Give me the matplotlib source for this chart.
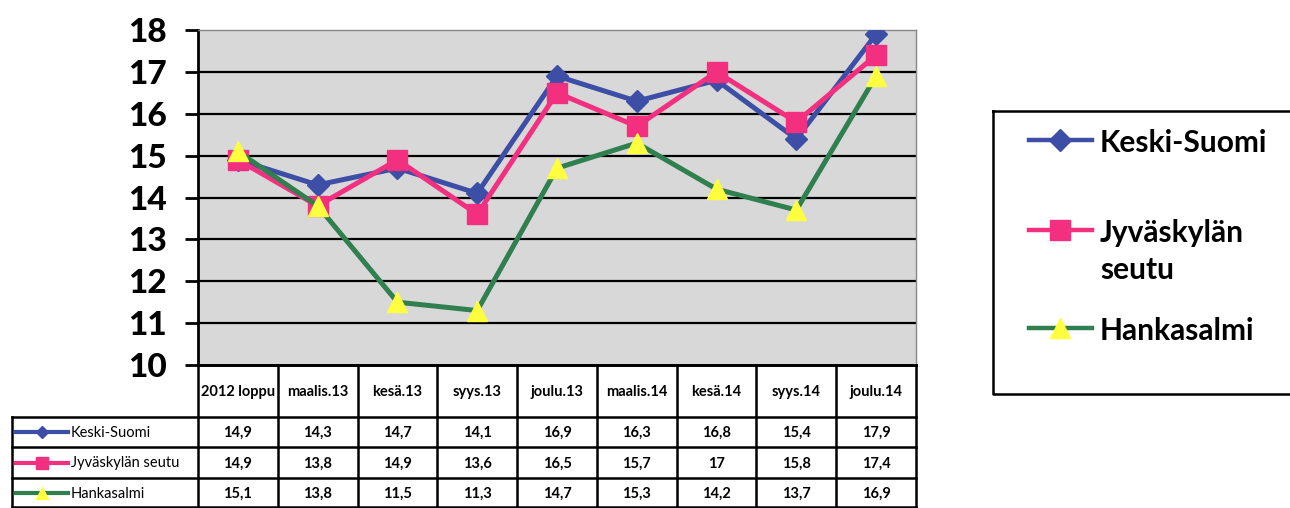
import matplotlib
matplotlib.use("Agg")
import matplotlib.pyplot as plt

plt.rcParams['font.family'] = ['Lato', 'DejaVu Sans']

categories = ["2012 loppu", "maalis.13", "kesä.13", "syys.13", "joulu.13",
              "maalis.14", "kesä.14", "syys.14", "joulu.14"]
series_names = ["Keski-Suomi", "Jyväskylän seutu", "Hankasalmi"]
keski_suomi = [14.9, 14.3, 14.7, 14.1, 16.9, 16.3, 16.8, 15.4, 17.9]
jyvaskylan_seutu = [14.9, 13.8, 14.9, 13.6, 16.5, 15.7, 17.0, 15.8, 17.4]
hankasalmi = [15.1, 13.8, 11.5, 11.3, 14.7, 15.3, 14.2, 13.7, 16.9]
y_ticks = [10, 11, 12, 13, 14, 15, 16, 17, 18]

values = [keski_suomi, jyvaskylan_seutu, hankasalmi]
styles = [
    dict(color="#3d4ea6", marker="D", ms=11, mfc="#3d4ea6", mec="#3d4ea6"),
    dict(color="#f2307f", marker="s", ms=14, mfc="#f2307f", mec="#f2307f"),
    dict(color="#2f7f4f", marker="^", ms=15, mfc="#ffff40", mec="#ffff40"),
]

W, H = 1290, 508
fig = plt.figure(figsize=(W / 100, H / 100), dpi=100)

# main chart area (pixel box converted to figure fractions)
left, right, top, bottom = 198, 916, 30, 365
ax = fig.add_axes([left / W, 1 - bottom / H, (right - left) / W, (bottom - top) / H])
ax.set_facecolor("#d8d8d8")
x = list(range(len(categories)))
for vals, st in zip(values, styles):
    ax.plot(x, vals, lw=3.6, solid_joinstyle="miter", zorder=3, **st)

ax.set_xlim(-0.5, len(categories) - 0.5)
ax.set_ylim(y_ticks[0], y_ticks[-1])
ax.set_yticks(y_ticks)
ax.set_yticklabels([str(t) for t in y_ticks], fontsize=24, fontweight="black")
ax.set_xticks([])
ax.tick_params(axis="y", length=9.5, width=2, direction="out", pad=13)
for t in y_ticks[1:-1]:
    ax.axhline(t, color="black", lw=1.6, zorder=1)
ax.spines["left"].set_linewidth(2)
ax.spines["bottom"].set_linewidth(2)
for s in ("top", "right"):
    ax.spines[s].set_color("#888888")
    ax.spines[s].set_linewidth(1)

# overlay in pixel coordinates for data table and legend
ov = fig.add_axes([0, 0, 1, 1], facecolor="none")
ov.set_xlim(0, W)
ov.set_ylim(H, 0)
ov.axis("off")

fig.canvas.draw()
def col_px(v):
    return ax.transData.transform((v, 10))[0]

edges = [col_px(i - 0.5) for i in range(len(categories) + 1)]
centers = [col_px(i) for i in range(len(categories))]
row_y = [bottom, 417, 447, 478, 507]
tab_left = 12
lk = dict(color="black", lw=1.8, solid_capstyle="projecting")

# horizontal rules
ov.plot([edges[0], edges[-1]], [row_y[0]] * 2, **lk)
for yy in row_y[1:]:
    ov.plot([tab_left, edges[-1]], [yy] * 2, **lk)
# vertical rules
for e in edges:
    ov.plot([e, e], [row_y[0], row_y[-1]], **lk)
ov.plot([tab_left, tab_left], [row_y[1], row_y[-1]], **lk)

for c, lab in zip(centers, categories):
    ov.text(c, (row_y[0] + row_y[1]) / 2 + 1, lab, ha="center", va="center",
            fontsize=10.5, fontweight="bold")
for r, (name, vals, st) in enumerate(zip(series_names, values, styles)):
    yc = (row_y[r + 1] + row_y[r + 2]) / 2
    ov.plot([16, 68], [yc, yc], color=st["color"], lw=3, zorder=4)
    ov.plot([42], [yc], marker=st["marker"], ms=st["ms"] * 0.6,
            mfc=st["mfc"], mec=st["mec"], lw=0, zorder=5)
    ov.text(71, yc + 1, name, ha="left", va="center", fontsize=10.5)
    for c, v in zip(centers, vals):
        ov.text(c, yc + 1, f"{v:g}".replace(".", ","), ha="center", va="center",
                fontsize=10.5, fontweight="bold")

# legend box
ov.plot([993, 993, 1295, 1295, 993], [111, 394, 394, 111, 111],
        color="black", lw=1.8, clip_on=False)
legend_y = [140, 230, 328]
for yc, name, st in zip(legend_y, series_names, styles):
    ov.plot([1029, 1092], [yc, yc], color=st["color"], lw=3.2)
    ov.plot([1060], [yc], marker=st["marker"], ms=st["ms"], mfc=st["mfc"],
            mec=st["mec"], lw=0)
    for i, word in enumerate(name.split(" ")):
        ov.text(1100, yc + 12 + i * 37, word, ha="left", va="baseline",
                fontsize=21.5, fontweight="bold")

fig.savefig("out.png", dpi=100)
